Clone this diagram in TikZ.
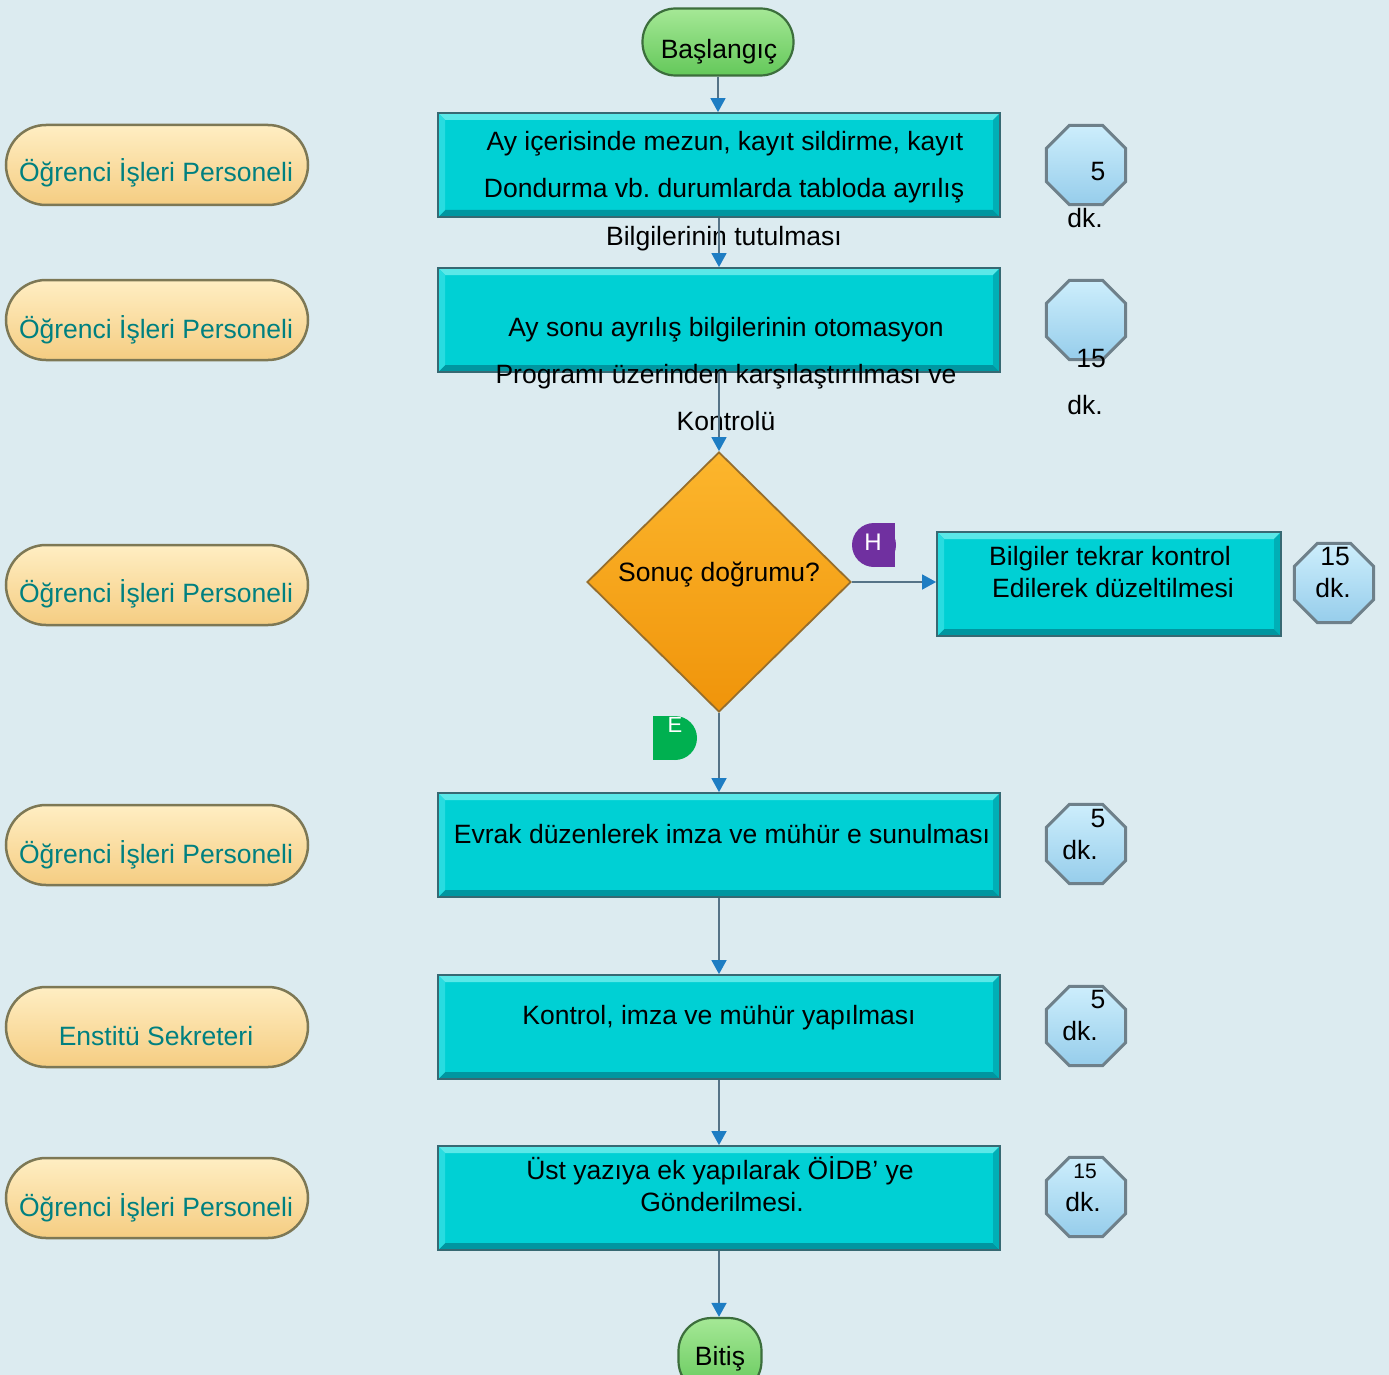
\documentclass[tikz,border=0pt]{standalone}
\usepackage{fontspec}
\setmainfont{Liberation Sans}
\frenchspacing
\usetikzlibrary{arrows.meta,shapes.geometric}
\definecolor{bg}{RGB}{220,235,240}
\definecolor{cyanbox}{RGB}{0,208,212}
\definecolor{cyanlite}{RGB}{90,232,232}
\definecolor{cyanlite2}{RGB}{40,220,224}
\definecolor{cyanmid}{RGB}{0,175,182}
\definecolor{cyandark}{RGB}{0,150,160}
\definecolor{cyanedge}{RGB}{55,105,115}
\definecolor{pilltop}{RGB}{255,238,195}
\definecolor{pillbot}{RGB}{245,205,130}
\definecolor{pilledge}{RGB}{125,120,85}
\definecolor{pilltext}{RGB}{0,128,128}
\definecolor{greentop}{RGB}{165,232,150}
\definecolor{greenbot}{RGB}{100,200,90}
\definecolor{greenedge}{RGB}{60,110,60}
\definecolor{octtop}{RGB}{205,238,252}
\definecolor{octbot}{RGB}{150,205,235}
\definecolor{octedge}{RGB}{110,128,138}
\definecolor{orangetop}{RGB}{252,182,45}
\definecolor{orangebot}{RGB}{240,148,10}
\definecolor{orangeedge}{RGB}{150,110,45}
\definecolor{lineclr}{RGB}{85,115,135}
\definecolor{tipclr}{RGB}{30,125,195}
\definecolor{hpurple}{RGB}{112,48,160}
\definecolor{egreen}{RGB}{0,176,80}
\begin{document}
\begin{tikzpicture}[x=1pt,y=-1pt,
  txt/.style={font=\fontsize{26.5}{30}\selectfont\frenchspacing, inner sep=0pt, text height=19pt, text depth=5pt},
  ptxt/.style={txt, text=pilltext},
  procbox/.style={draw=cyanedge, line width=1.8pt, fill=cyanbox, minimum width=562pt, minimum height=104pt, inner sep=0pt,
    path picture={
      \coordinate (bnw) at (path picture bounding box.north west);
      \coordinate (bne) at (path picture bounding box.north east);
      \coordinate (bsw) at (path picture bounding box.south west);
      \coordinate (bse) at (path picture bounding box.south east);
      \fill[cyanlite] (bnw) -- (bne) -- ([shift={(-7,7)}]bne) -- ([shift={(7,7)}]bnw) -- cycle;
      \fill[cyandark] (bsw) -- (bse) -- ([shift={(-7,-7)}]bse) -- ([shift={(7,-7)}]bsw) -- cycle;
      \fill[cyanmid] (bne) -- (bse) -- ([shift={(-7,-7)}]bse) -- ([shift={(-7,7)}]bne) -- cycle;
      \fill[cyanlite2] (bnw) -- (bsw) -- ([shift={(7,-7)}]bsw) -- ([shift={(7,7)}]bnw) -- cycle;
    }},
  actor/.style={draw=pilledge, line width=2.5pt, top color=pilltop, bottom color=pillbot, minimum width=302pt, minimum height=80pt, rounded corners=40pt, inner sep=0pt},
  terminal/.style={draw=greenedge, line width=2.2pt, top color=greentop, bottom color=greenbot, rounded corners=33pt, inner sep=0pt},
  octo/.style={regular polygon, regular polygon sides=8, minimum size=86pt, inner sep=0pt, draw=octedge, line width=3pt, top color=octtop, bottom color=octbot},
  conn/.style={draw=lineclr, line width=1.6pt, -{Triangle[length=14pt,width=15pt,color=tipclr]}}
]
\useasboundingbox (0,0) rectangle (1389,1375);
\clip (0,0) rectangle (1389,1375);
\fill[bg] (0,0) rectangle (1389,1375);

% actors (left)
\node[actor] (a1) at (157,165) {};
\node[actor] (a2) at (157,320) {};
\node[actor] (a3) at (157,585) {};
\node[actor] (a4) at (157,845) {};
\node[actor] (a5) at (157,1027) {};
\node[actor] (a6) at (157,1198) {};
\node[ptxt] (a1t) at (156,175) {Öğrenci İşleri Personeli};
\node[ptxt] (a2t) at (156,331) {Öğrenci İşleri Personeli};
\node[ptxt] (a3t) at (156,595) {Öğrenci İşleri Personeli};
\node[ptxt] (a4t) at (156,856) {Öğrenci İşleri Personeli};
\node[ptxt] (a5t) at (156,1038) {Enstitü Sekreteri};
\node[ptxt] (a6t) at (156,1209) {Öğrenci İşleri Personeli};

% terminals
\node[terminal, minimum width=151pt, minimum height=67pt] (start) at (718,42) {};
\node[terminal, minimum width=83pt, minimum height=76pt] (end) at (720,1356) {};
\node[txt] (startt) at (719,52) {Başlangıç};
\node[txt] (endt) at (720,1358) {Bitiş};

% process boxes
\node[procbox] (b1) at (719,165) {};
\node[procbox] (b2) at (719,320) {};
\node[procbox] (b3) at (719,845) {};
\node[procbox] (b4) at (719,1027) {};
\node[procbox] (b5) at (719,1198) {};
\node[procbox, minimum width=344pt] (rb) at (1109,584) {};

% decision
\node[diamond, minimum width=264pt, minimum height=260pt, inner sep=0pt, draw=orangeedge, line width=1.8pt, top color=orangetop, bottom color=orangebot] (dec) at (719,582) {};

% octagons
\node[octo] (o1) at (1086,165) {};
\node[octo] (o2) at (1086,320) {};
\node[octo] (o3) at (1086,844) {};
\node[octo] (o4) at (1086,1026) {};
\node[octo] (o5) at (1086,1197) {};
\node[octo] (o6) at (1334,583) {};

% texts
\node[txt] (b1a) at (725,144) {Ay içerisinde mezun, kayıt sildirme, kayıt};
\node[txt] (b1b) at (724,190) {Dondurma vb. durumlarda tabloda ayrılış};
\node[txt] (b1c) at (724,238) {Bilgilerinin tutulması};
\node[txt] (b2a) at (726,329) {Ay sonu ayrılış bilgilerinin otomasyon};
\node[txt] (b2b) at (726,376) {Programı üzerinden karşılaştırılması ve};
\node[txt] (b2c) at (726,423) {Kontrolü};
\node[txt] (dect) at (719,574) {Sonuç doğrumu?};
\node[txt] (rba) at (1110,558) {Bilgiler tekrar kontrol};
\node[txt] (rbb) at (1113,590) {Edilerek düzeltilmesi};
\node[txt] (b3t) at (722,836) {Evrak düzenlerek imza ve mühür e sunulması};
\node[txt] (b4t) at (719,1017) {Kontrol, imza ve mühür yapılması};
\node[txt] (b5a) at (720,1172) {Üst yazıya ek yapılarak ÖİDB’ ye};
\node[txt] (b5b) at (722,1204) {Gönderilmesi.};

\node[txt] (o1a) at (1098,174) {5};
\node[txt] (o1b) at (1085,220) {dk.};
\node[txt] (o2a) at (1091,360) {15};
\node[txt] (o2b) at (1085,407) {dk.};
\node[txt] (o3a) at (1098,820) {5};
\node[txt] (o3b) at (1080,852) {dk.};
\node[txt] (o4a) at (1098,1001) {5};
\node[txt] (o4b) at (1080,1033) {dk.};
\node[txt, font=\fontsize{21}{25}\selectfont, text height=15pt, text depth=4pt] (o5a) at (1085,1173) {15};
\node[txt] (o5b) at (1083,1204) {dk.};
\node[txt] (o6a) at (1335,558) {15};
\node[txt] (o6b) at (1333,590) {dk.};

% H / E markers
\fill[hpurple] (874,545) circle (22);
\fill[hpurple] (874,523) rectangle (895,567);
\node[txt, text=white, font=\fontsize{24}{28}\selectfont] (hm) at (873,543) {H};
\fill[egreen] (675,738) circle (22);
\fill[egreen] (653,716) rectangle (675,760);
\node[txt, text=white, font=\fontsize{22}{26}\selectfont, text height=16pt, text depth=0pt] (em) at (675,724) {E};

% connectors
\draw[conn] (start.south) -- (start.south |- b1.north);
\draw[conn] (b1.south) -- (b1.south |- b2.north);
\draw[conn] (b2.south) -- (b2.south |- dec.north);
\draw[conn] (dec.east) -- (dec.east -| rb.west);
\draw[conn] (dec.south) -- (dec.south |- b3.north);
\draw[conn] (b3.south) -- (b3.south |- b4.north);
\draw[conn] (b4.south) -- (b4.south |- b5.north);
\draw[conn] (b5.south) -- (b5.south |- end.north);
\end{tikzpicture}
\end{document}
